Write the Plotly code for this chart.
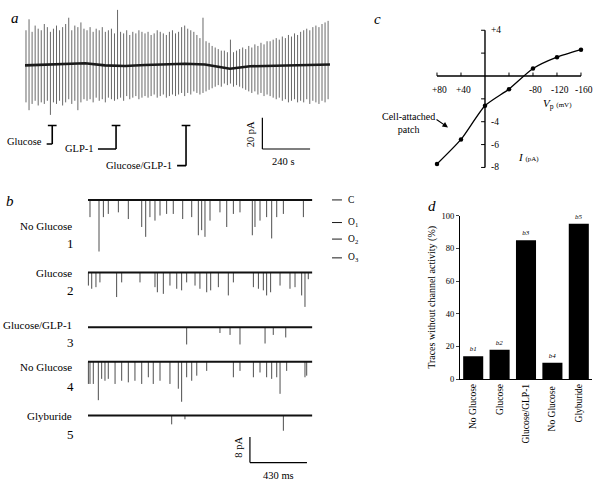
import plotly.graph_objects as go

W, H = 600, 487
FONT = "Liberation Serif"

# ---------------- Panel a data (pA, recording sampled every spike) ----------------
a_spike_interval_s = 15.35
a_spike_top = [22, 29, 21, 25, 23, 22, 26, 24, 21, 23,
               25, 22, 24, 26, 30, 22, 25, 24, 27, 23,
               22, 24, 21, 23, 22, 24, 21, 22, 23, 20,
               35, 21, 20, 22, 19, 21, 20, 22, 21, 20,
               21, 19, 20, 22, 21, 20, 19, 21, 22, 20,
               21, 24, 25, 23, 22, 21, 19, 17, 30, 15,
               14, 12, 11, 10, 9, 9, 8, 16, 8, 9,
               10, 11, 10, 12, 11, 13, 12, 14, 13, 15,
               15, 16, 17, 16, 18, 17, 19, 18, 20, 19,
               21, 22, 23, 22, 24, 25, 24, 26, 27, 28]
a_spike_bottom = [-24, -29, -25, -23, -26, -24, -25, -23, -32, -24,
                  -25, -23, -26, -24, -22, -25, -23, -29, -24, -22,
                  -23, -22, -24, -21, -23, -22, -24, -21, -22, -23,
                  -22, -21, -23, -20, -22, -21, -20, -22, -21, -20,
                  -21, -20, -19, -21, -20, -19, -21, -20, -19, -20,
                  -19, -18, -20, -18, -19, -17, -18, -19, -18, -17,
                  -16, -15, -14, -13, -14, -12, -13, -12, -14, -13,
                  -14, -15, -16, -17, -18, -17, -19, -18, -20, -19,
                  -20, -21, -22, -21, -23, -22, -24, -23, -22, -24,
                  -23, -24, -22, -25, -23, -24, -25, -23, -24, -22]
a_baseline_t = [0, 101, 201, 302, 402, 503, 604, 704, 805, 905, 971, 1031, 1132, 1232, 1333, 1434, 1534]
a_baseline_pA = [-0.4, 0.0, 0.6, 1.0, -0.4, -0.8, -0.2, 0.0, 0.6, 0.2, -1.4, -2.5, -1.0, -0.6, -0.2, 0.0, 0.2]
a_stim_labels = ["Glucose", "GLP-1", "Glucose/GLP-1"]
a_stim_t = [137, 458, 810]

# ---------------- Panel b data (events: time ms, amplitude pA) ----------------
b_names = ["No Glucose", "Glucose", "Glucose/GLP-1", "No Glucose", "Glyburide"]
b_numbers = ["1", "2", "3", "4", "5"]
b_events_t = [
    [15, 83, 116, 153, 229, 304, 405, 435, 467, 505, 543, 593, 643, 714, 782, 832, 857, 882, 920,
     995, 1046, 1096, 1146, 1239, 1259, 1297, 1347, 1385, 1423, 1473, 1624],
    [3, 28, 60, 90, 216, 254, 392, 505, 523, 568, 618, 669, 706, 744, 807, 844, 895, 925, 983,
     1058, 1096, 1247, 1285, 1322, 1347, 1377, 1448, 1523, 1561, 1611, 1636, 1661],
    [744, 995, 1071, 1146, 1335, 1397, 1491],
    [3, 15, 40, 78, 103, 128, 153, 204, 254, 304, 354, 405, 455, 492, 543, 618, 681, 706, 744,
     782, 820, 895, 1096, 1146, 1247, 1297, 1347, 1385, 1423, 1448, 1498, 1636, 1649],
    [631, 731, 1473],
]
b_events_a = [
    [5.4, 16.2, 5.4, 4.4, 3.9, 6.0, 8.5, 11.6, 5.4, 6.5, 4.9, 4.4, 4.4, 6.0, 5.4, 11.1, 9.5, 11.6, 6.5,
     3.9, 8.5, 4.4, 3.9, 11.1, 8.5, 6.5, 5.4, 12.1, 5.4, 4.4, 5.4],
    [4.1, 5.1, 4.6, 3.1, 7.7, 3.1, 3.1, 4.6, 6.2, 6.7, 4.1, 5.1, 5.6, 3.1, 4.1, 5.1, 6.2, 5.6, 4.6,
     7.2, 3.1, 4.6, 5.1, 5.6, 7.2, 6.2, 4.1, 5.1, 4.6, 7.2, 10.8, 2.1],
    [5.4, 1.8, 2.4, 5.4, 5.1, 2.4, 3.2],
    [7.0, 7.0, 7.0, 12.1, 5.4, 6.0, 5.4, 7.0, 6.0, 6.5, 6.0, 7.0, 4.9, 7.0, 6.0, 7.0, 8.5, 12.6, 4.9,
     6.0, 4.4, 2.9, 4.9, 2.9, 4.9, 3.4, 4.9, 5.4, 4.9, 10.1, 2.9, 4.9, 4.4],
    [2.8, 1.2, 4.8],
]
b_duration_ms = 1690
b_levels = ["C", "O<sub>1</sub>", "O<sub>2</sub>", "O<sub>3</sub>"]
b_level_pA = [0, -7.1, -12.3, -18.2]

# ---------------- Panel c data ----------------
c_vp = [80, 40, 0, -40, -80, -120, -160]
c_i = [-7.7, -5.55, -2.6, -1.15, 0.65, 1.65, 2.3]
c_xtick_vals = [80, 40, -80, -120, -160]
c_xtick_text = ["+80", "+40", "-80", "-120", "-160"]
c_ytick_vals = [4, -4, -6, -8]
c_ytick_text = ["+4", "-4", "-6", "-8"]

# ---------------- Panel d data ----------------
d_categories = ["No Glucose", "Glucose", "Glucose/GLP-1", "No Glucose ", "Glyburide"]
d_values = [14, 18, 85, 10, 95]
d_tags = ["b1", "b2", "b3", "b4", "b5"]


def px(x):
    return x / W


def py(y):
    return 1 - y / H


fig = go.Figure()

# ---- panel a traces ----
sx, sy = [], []
for i, (top, bot) in enumerate(zip(a_spike_top, a_spike_bottom)):
    t = 5 + i * a_spike_interval_s
    sx += [t, t, None]
    sy += [bot, top, None]
fig.add_trace(go.Scatter(x=sx, y=sy, mode="lines", line=dict(color="#585858", width=0.9),
                         xaxis="x", yaxis="y", hoverinfo="skip"))
fig.add_trace(go.Scatter(x=a_baseline_t, y=a_baseline_pA, mode="lines",
                         line=dict(color="#1a1a1a", width=2.6), xaxis="x", yaxis="y"))

# ---- panel b traces ----
b_offsets = [0, -22.8, -40.0, -50.8, -67.7]
for k in range(5):
    off = b_offsets[k]
    ex, ey = [], []
    for t, a in zip(b_events_t[k], b_events_a[k]):
        ex += [t, t, None]
        ey += [off, off - a, None]
    fig.add_trace(go.Scatter(x=ex, y=ey, mode="lines", line=dict(color="#3a3a3a", width=0.9),
                             xaxis="x2", yaxis="y2", hoverinfo="skip"))
    fig.add_trace(go.Scatter(x=[0, b_duration_ms], y=[off, off], mode="lines",
                             line=dict(color="#111", width=2.0), xaxis="x2", yaxis="y2"))

# ---- panel c ----
fig.add_trace(go.Scatter(x=c_vp, y=c_i, mode="lines+markers", line=dict(color="black", width=1.3, shape="spline", smoothing=0.6),
                         marker=dict(color="black", size=4.5), xaxis="x3", yaxis="y3"))

# ---- panel d ----
fig.add_trace(go.Bar(x=d_categories, y=d_values, marker=dict(color="black", line=dict(width=0)),
                     text=["<i>%s</i>" % t for t in d_tags], textposition="outside",
                     textfont=dict(size=7, family=FONT, color="black"), cliponaxis=False,
                     xaxis="x4", yaxis="y4", width=0.76))

shapes = []
ann = []


def line(x0, y0, x1, y1, xref, yref, w=1.2):
    shapes.append(dict(type="line", x0=x0, y0=y0, x1=x1, y1=y1, xref=xref, yref=yref,
                       line=dict(color="black", width=w)))


def text(x, y, s, size=11, xanchor="center", yanchor="middle", angle=0, xref="paper", yref="paper"):
    if xref == "paper":
        x = px(x)
    if yref == "paper":
        y = py(y)
    ann.append(dict(x=x, y=y, xref=xref, yref=yref, text=s, showarrow=False, xanchor=xanchor,
                    yanchor=yanchor, textangle=angle, font=dict(size=size, family=FONT, color="black")))


# panel labels
text(15, 13, "<i>a</i>", 15)
text(10, 200, "<i>b</i>", 15)
text(377, 14, "<i>c</i>", 15)
text(432, 205, "<i>d</i>", 15)

# panel a stimulus brackets
a_stim_bottom = [-50.6, -53.75, -64.4]
a_stim_left = [109, 367, 765]
a_text_x = [44, 96, 174]
a_text_y = [139, 147, 164]
for lab, t, bt, lft, tx, ty in zip(a_stim_labels, a_stim_t, a_stim_bottom, a_stim_left, a_text_x, a_text_y):
    line(t, -38.75, t, bt, "x", "y", 1.6)
    line(t - 22, -38.75, t + 22, -38.75, "x", "y", 1.6)
    line(lft, bt, t, bt, "x", "y", 1.6)
    text(tx, ty, lab, 10.5, xanchor="right")

# panel a scale bar
line(1194, -33.75, 1194, -53.75, "x", "y", 1.2)
line(1194, -53.75, 1434, -53.75, "x", "y", 1.2)
text(250, 132, "20 pA", 10.5, angle=-90)
text(283, 160, "240 s", 10.5)

# panel b labels
b_label_y = [226, 274, 327, 370, 420]
b_num_y = [243, 291, 345, 390, 439]
for name, num, ly, ny in zip(b_names, b_numbers, b_label_y, b_num_y):
    text(74, ly, name, 11, xanchor="right")
    text(70, ny, num, 13)
# level marks
for lab, lv in zip(b_levels, b_level_pA):
    line(1840, lv, 1915, lv, "x2", "y2", 0.9)
    text(1945, lv, lab, 9.5, xanchor="left", xref="x2", yref="y2")
# scale bar b
line(1221, -74.5, 1221, -82.5, "x2", "y2", 1.2)
line(1221, -82.5, 1651, -82.5, "x2", "y2", 1.2)
text(239, 452, "8 pA", 10.5, angle=-90)
text(278, 480, "430 ms", 10.5)

# panel c axes
line(80, 0, -160, 0, "x3", "y3", 1.4)
line(0, -8, 0, 4, "x3", "y3", 1.4)
for v in [80, 40, -40, -80, -120, -160]:
    line(v, 0, v, 0.3, "x3", "y3", 1.0)
for v in [4, 2, -2, -4, -6, -8]:
    line(0, v, 6.5, v, "x3", "y3", 1.0)
for v, s in zip(c_xtick_vals, c_xtick_text):
    text(v - 5, -1.2, s, 9.5, xref="x3", yref="y3")
for v, s in zip(c_ytick_vals, c_ytick_text):
    text(-7, v, s, 9.5, xanchor="left", xref="x3", yref="y3")
text(541, 101, "<i>V</i><sub>p</sub> <span style='font-size:7px'>(mV)</span>", 11, xanchor="left")
text(516, 155, "<i>I</i> <span style='font-size:7px'>(pA)</span>", 11, xanchor="left")
text(408, 120, "Cell-attached<br>patch", 10)
ann.append(dict(x=px(448), y=py(125), xref="paper", yref="paper", ax=-13, ay=-9, text="",
                showarrow=True, arrowhead=2, arrowsize=1, arrowwidth=1.1, arrowcolor="black"))

fig.update_layout(
    width=W, height=H, margin=dict(l=0, r=0, t=0, b=0),
    paper_bgcolor="white", plot_bgcolor="white", showlegend=False,
    font=dict(family=FONT, color="black"),
    shapes=shapes, annotations=ann,
    xaxis=dict(domain=[0, px(340)], range=[-125.75, 1584.5], visible=False, anchor="y"),
    yaxis=dict(domain=[py(180), 1], range=[-74.375, 38.125], visible=False, anchor="x"),
    xaxis2=dict(domain=[0, px(370)], range=[-663.5, 2126.3], visible=False, anchor="y2"),
    yaxis2=dict(domain=[0, py(180)], range=[-88.6, 5.85], visible=False, anchor="x2"),
    xaxis3=dict(domain=[px(380), 1], range=[175, -191.7], visible=False, anchor="y3"),
    yaxis3=dict(domain=[py(190), 1], range=[-10.07, 6.21], visible=False, anchor="x3"),
    xaxis4=dict(domain=[px(460), px(592)], range=[-0.5, 4.5], anchor="y4", showline=True,
                linecolor="black", linewidth=1, ticks="", tickangle=-90,
                tickfont=dict(size=9.5, family=FONT, color="black")),
    yaxis4=dict(domain=[py(382), py(215)], range=[0, 100], anchor="x4", showline=True,
                linecolor="black", linewidth=1, ticks="outside", ticklen=3, tickwidth=1,
                tickvals=[0, 20, 40, 60, 80, 100], showgrid=False, zeroline=False,
                tickfont=dict(size=8.5, family=FONT, color="black"),
                title=dict(text="Traces without channel activity (%)", standoff=4,
                           font=dict(size=10, family=FONT, color="black"))),
)

fig.write_html("out.html", config={"displayModeBar": False},
               post_script="document.body.style.margin='0px';document.body.style.padding='0px';")
